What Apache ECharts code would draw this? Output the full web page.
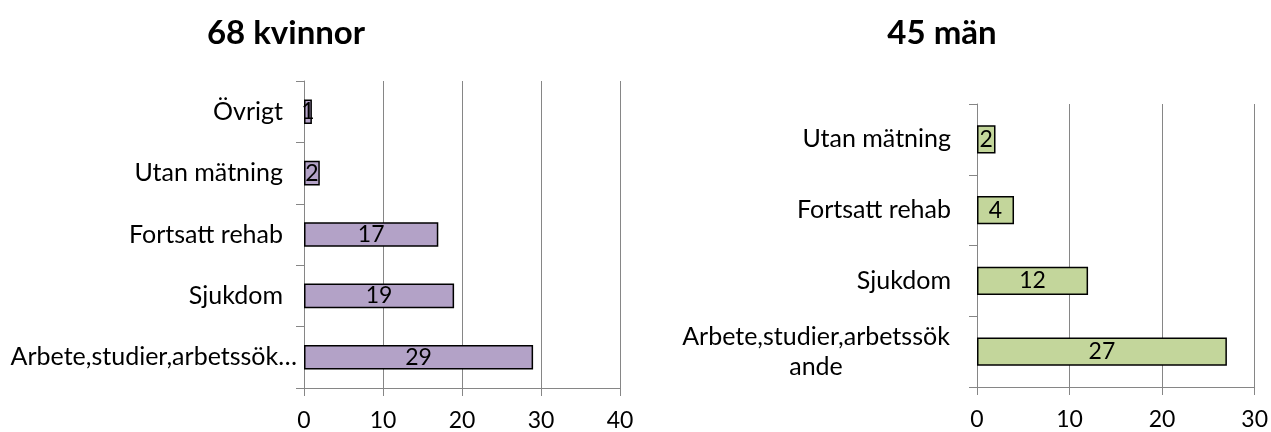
<!DOCTYPE html>
<html>
<head>
<meta charset="utf-8">
<script src="https://cdn.jsdelivr.net/npm/echarts@6/dist/echarts.min.js"></script>
<style>
  html, body { margin: 0; padding: 0; background: #fff; }
  #main { width: 1271px; height: 432px; }
</style>
</head>
<body>
<div id="main"></div>
<script>
// kvinnor (uppifrån och ned)
const womenCategories = ['Övrigt', 'Utan mätning', 'Fortsatt rehab', 'Sjukdom', 'Arbete,studier,arbetssökande'];
const womenValues = [1, 2, 17, 19, 29];
const womenTicks = [0, 10, 20, 30, 40];

// män
const menCategories = ['Utan mätning', 'Fortsatt rehab', 'Sjukdom', 'Arbete,studier,arbetssökande'];
const menValues = [2, 4, 12, 27];
const menTicks = [0, 10, 20, 30];

const titles = ['68 kvinnor', '45 män'];

const FONT = 'Lato';
const axisGrey = '#868686';

let chart = echarts.init(document.getElementById('main'), null, { renderer: 'canvas' });

function xAxisFor(gridIndex, ticks) {
  return {
    gridIndex: gridIndex,
    type: 'value',
    min: ticks[0],
    max: ticks[ticks.length - 1],
    interval: ticks[1] - ticks[0],
    axisLine: { show: true, lineStyle: { color: axisGrey, width: 1 } },
    axisTick: { show: true, length: 8, lineStyle: { color: axisGrey } },
    splitLine: { show: true, lineStyle: { color: axisGrey, width: 1 } },
    axisLabel: { color: '#000', fontFamily: FONT, fontSize: 23, margin: 21 }
  };
}

function yAxisFor(gridIndex, cats, margin, wrap) {
  return {
    gridIndex: gridIndex,
    type: 'category',
    inverse: true,
    data: cats,
    axisLine: { show: true, lineStyle: { color: axisGrey, width: 1 } },
    axisTick: { show: true, length: 8, lineStyle: { color: axisGrey } },
    axisLabel: {
      color: '#000',
      fontFamily: FONT,
      fontSize: 25,
      margin: margin,
      formatter: function (name) {
        if (name.length <= 24) return '{n|' + name + '}';
        if (!wrap) return '{t|' + name.substring(0, 24) + '…}';
        // bryt raden som i Excel, centrerat
        return '{c|' + name.substring(0, 24) + '}\n{c|' + name.substring(24) + '}';
      },
      rich: {
        n: { fontFamily: FONT, fontSize: 25, color: '#000', padding: [0, 14, 0, 0] },
        t: { fontFamily: FONT, fontSize: 25, color: '#000' },
        c: { width: 270, align: 'center', fontFamily: FONT, fontSize: 25, color: '#000', lineHeight: 30, padding: [0, 14, 0, 0] }
      }
    }
  };
}

function barSeries(idx, values, color) {
  return {
    type: 'bar',
    xAxisIndex: idx,
    yAxisIndex: idx,
    data: values,
    barWidth: '40%',
    itemStyle: { color: color, borderColor: '#000', borderWidth: 1.5 },
    label: {
      show: true,
      position: 'inside',
      color: '#000',
      fontFamily: FONT,
      fontSize: 23
    }
  };
}

let option = {
  backgroundColor: '#fff',
  animation: false,
  title: [
    { text: titles[0], left: 281, textAlign: 'center', top: 12,
      textStyle: { fontFamily: FONT, fontWeight: 'bold', fontSize: 33, color: '#000' } },
    { text: titles[1], left: 937, textAlign: 'center', top: 12,
      textStyle: { fontFamily: FONT, fontWeight: 'bold', fontSize: 33, color: '#000' } }
  ],
  grid: [
    { left: 304, top: 81, width: 316, height: 307, containLabel: false },
    { left: 977, top: 104, width: 280, height: 283, containLabel: false }
  ],
  xAxis: [xAxisFor(0, womenTicks), xAxisFor(1, menTicks)],
  yAxis: [yAxisFor(0, womenCategories, 7, false), yAxisFor(1, menCategories, 12, true)],
  series: [
    barSeries(0, womenValues, '#b3a2c7'),
    barSeries(1, menValues, '#c3d69b')
  ]
};

chart.setOption(option);
</script>
</body>
</html>
